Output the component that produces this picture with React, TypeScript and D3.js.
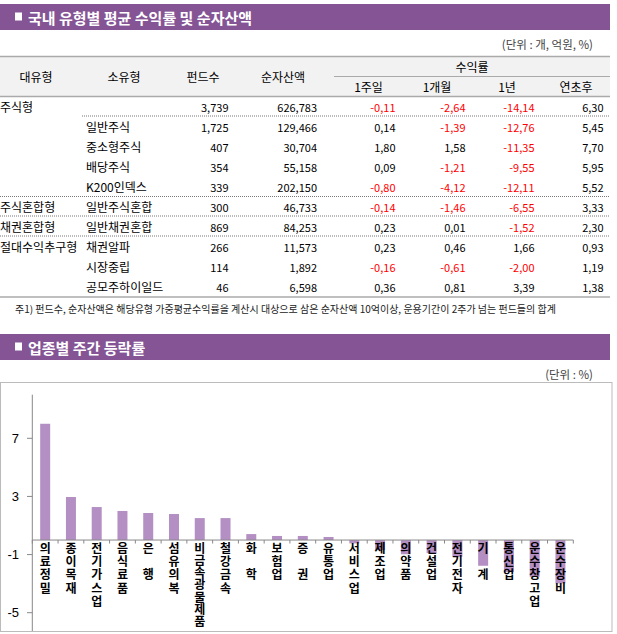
import React from "react";
import * as d3 from "d3";

// ---------- Table data ----------
const majorTypes = ["주식형", "", "", "", "", "주식혼합형", "채권혼합형", "절대수익추구형", "", ""];
const subTypes = ["", "일반주식", "중소형주식", "배당주식", "K200인덱스", "일반주식혼합", "일반채권혼합", "채권알파", "시장중립", "공모주하이일드"];
const fundCounts = ["3,739", "1,725", "407", "354", "339", "300", "869", "266", "114", "46"];
const netAssets = ["626,783", "129,466", "30,704", "55,158", "202,150", "46,733", "84,253", "11,573", "1,892", "6,598"];
const ret1w = [-0.11, 0.14, 1.8, 0.09, -0.8, -0.14, 0.23, 0.23, -0.16, 0.36];
const ret1m = [-2.64, -1.39, 1.58, -1.21, -4.12, -1.46, 0.01, 0.46, -0.61, 0.81];
const ret1y = [-14.14, -12.76, -11.35, -9.55, -12.11, -6.55, -1.52, 1.66, -2.0, 3.39];
const retYtd = [6.3, 5.45, 7.7, 5.95, 5.52, 3.33, 2.3, 0.93, 1.19, 1.38];

// ---------- Chart data ----------
const sectors = [
  "의료정밀", "종이목재", "전기가스업", "음식료품", "은행", "섬유의복", "비금속광물제품",
  "철강금속", "화학", "보험업", "증권", "유통업", "서비스업", "제조업", "의약품",
  "건설업", "전기전자", "기계", "통신업", "운수창고업", "운수장비",
];
const sectorChanges = [
  8.0, 2.96, 2.27, 2.0, 1.86, 1.79, 1.51, 1.51, 0.41, 0.28, 0.28, 0.21,
  -0.23, -0.69, -0.98, -0.9, -1.15, -1.77, -2.2, -2.53, -2.98,
];
const yTicks = [7, 3, -1, -5];

const PURPLE = "#845495";
const BAR = "#b48fc3";
const KFONT = "'Noto Sans CJK KR', 'Noto Sans', sans-serif";

const fmt = (v: number) => v.toFixed(2).replace(".", ",");

function TitleBar({ y, text }: { y: number; text: string }) {
  return (
    <g>
      <rect x={0} y={y} width={610} height={26} fill={PURPLE} />
      <rect x={15} y={y + 8.5} width={7} height={8} fill="#fff" />
      <text x={28} y={y + 13} dominantBaseline="central" fill="#fff" fontSize={15} fontWeight="bold" fontFamily={KFONT}>
        {text}
      </text>
    </g>
  );
}

export default function App() {
  const rowY = (i: number) => 106.7 + 20 * i;
  const colRight = [228.5, 317, 395.5, 465.5, 534.5, 603.5];
  const tFont = { fontSize: 11, fontFamily: KFONT } as const;

  // chart scales
  const x = d3.scaleBand<string>().domain(sectors).range([32.3, 573.3]).paddingInner(0.612).paddingOuter(0.306);
  const y = d3.scaleLinear().domain([-5, 7]).range([612.7, 438.3]);
  const y0 = y(0);
  const step = x.step();
  const boundaries = d3.range(sectors.length + 1).map((i) => 32.3 + i * step);

  const labelText = (name: string) => {
    const chars = Array.from(name);
    if (chars.length === 2) return chars[0] + "\u3000" + chars[1];
    return name;
  };

  const dotted = (x1: number, yy: number) => (
    <line x1={x1} x2={610} y1={yy} y2={yy} stroke="#777" strokeWidth={1} strokeDasharray="1,1" />
  );

  return (
    <svg width={617} height={634} style={{ position: "absolute", left: 0, top: 0 }} fontFamily={KFONT}>
      <rect width={617} height={634} fill="#fff" />
      {/* ---------- Section 1 ---------- */}
      <TitleBar y={4} text="국내 유형별 평균 수익률 및 순자산액" />
      <text x={593} y={43.5} textAnchor="end" dominantBaseline="central" fontSize={11.5} fill="#444">
        (단위 : 개, 억원, %)
      </text>

      {/* header */}
      <rect x={0} y={56} width={610} height={40} fill="#f2f2f2" />
      <line x1={0} x2={610} y1={56.5} y2={56.5} stroke="#aaa" strokeWidth={1.5} />
      <line x1={334} x2={610} y1={76.5} y2={76.5} stroke="#aaa" strokeWidth={1} />
      <line x1={0} x2={610} y1={96.5} y2={96.5} stroke="#aaa" strokeWidth={1.5} />
      {[
        ["대유형", 36],
        ["소유형", 124],
        ["펀드수", 203],
        ["순자산액", 283],
      ].map(([t, cx]) => (
        <text key={t as string} x={cx as number} y={76} textAnchor="middle" dominantBaseline="central" {...tFont} fontSize={12}>
          {t}
        </text>
      ))}
      <text x={472} y={66.5} textAnchor="middle" dominantBaseline="central" {...tFont} fontSize={12}>
        수익률
      </text>
      {[
        ["1주일", 368.5],
        ["1개월", 437],
        ["1년", 507],
        ["연초후", 576],
      ].map(([t, cx]) => (
        <text key={t as string} x={cx as number} y={86.5} textAnchor="middle" dominantBaseline="central" {...tFont} fontSize={12}>
          {t}
        </text>
      ))}

      {/* rows */}
      {subTypes.map((s, i) => {
        const yy = rowY(i);
        const vals = [ret1w[i], ret1m[i], ret1y[i], retYtd[i]];
        return (
          <g key={i}>
            {majorTypes[i] && (
              <text x={0} y={yy} dominantBaseline="central" {...tFont} fontSize={12}>
                {majorTypes[i]}
              </text>
            )}
            {s && (
              <text x={86} y={yy} dominantBaseline="central" {...tFont} fontSize={12}>
                {s}
              </text>
            )}
            <text x={colRight[0]} y={yy} textAnchor="end" dominantBaseline="central" {...tFont}>
              {fundCounts[i]}
            </text>
            <text x={colRight[1]} y={yy} textAnchor="end" dominantBaseline="central" {...tFont}>
              {netAssets[i]}
            </text>
            {vals.map((v, j) => (
              <text
                key={j}
                x={colRight[2 + j]}
                y={yy}
                textAnchor="end"
                dominantBaseline="central"
                {...tFont}
                fill={v < 0 ? "#ff0000" : "#000"}
              >
                {fmt(v)}
              </text>
            ))}
          </g>
        );
      })}
      {dotted(82, 116)}
      {dotted(0, 196.5)}
      {dotted(0, 216)}
      {dotted(0, 236)}
      <line x1={0} x2={610} y1={297} y2={297} stroke="#aaa" strokeWidth={1.5} />
      <text x={15} y={308.5} dominantBaseline="central" fontSize={10} fill="#222">
        주1) 펀드수, 순자산액은 해당유형 가중평균수익률을 계산시 대상으로 삼은 순자산액 10억이상, 운용기간이 2주가 넘는 펀드들의 합계
      </text>

      {/* ---------- Section 2 ---------- */}
      <TitleBar y={334} text="업종별 주간 등락률" />
      <text x={593} y={374.3} textAnchor="end" dominantBaseline="central" fontSize={11.5} fill="#444">
        (단위 : %)
      </text>
      <rect x={0.5} y={382.5} width={611.5} height={249} fill="none" stroke="#bbb" strokeWidth={1} />

      {/* y axis */}
      <line x1={32.3} x2={32.3} y1={y(10)} y2={631} stroke="#888" strokeWidth={1} />
      {yTicks.map((t) => (
        <g key={t}>
          <line x1={27} x2={32.3} y1={y(t)} y2={y(t)} stroke="#888" />
          <text x={19} y={y(t)} textAnchor="end" dominantBaseline="central" fontSize={13} fontFamily="'Liberation Sans', Arial, sans-serif" fill="#000">
            {t}
          </text>
        </g>
      ))}

      {/* bars */}
      {sectors.map((s, i) => {
        const v = sectorChanges[i];
        return (
          <rect
            key={s}
            x={x(s)}
            width={x.bandwidth()}
            y={Math.min(y(v), y0)}
            height={Math.abs(y(v) - y0)}
            fill={BAR}
          />
        );
      })}

      {/* x axis */}
      <line x1={32.3} x2={573.3} y1={y0} y2={y0} stroke="#888" />
      {boundaries.map((bx, i) => (
        <line key={i} x1={bx} x2={bx} y1={y0} y2={y0 + 3.5} stroke="#888" />
      ))}

      {/* category labels: vertical text, one element each */}
      {sectors.map((s) => {
        const cx = (x(s) as number) + x.bandwidth() / 2;
        const long = Array.from(s).length > 5;
        return (
          <text
            key={s}
            x={cx}
            y={y0 + 2.3}
            fontSize={12}
            fontWeight="bold"
            fill="#000"
            style={{ writingMode: "vertical-rl", letterSpacing: long ? "0.2px" : "1.3px" } as React.CSSProperties}
          >
            {labelText(s)}
          </text>
        );
      })}
    </svg>
  );
}
